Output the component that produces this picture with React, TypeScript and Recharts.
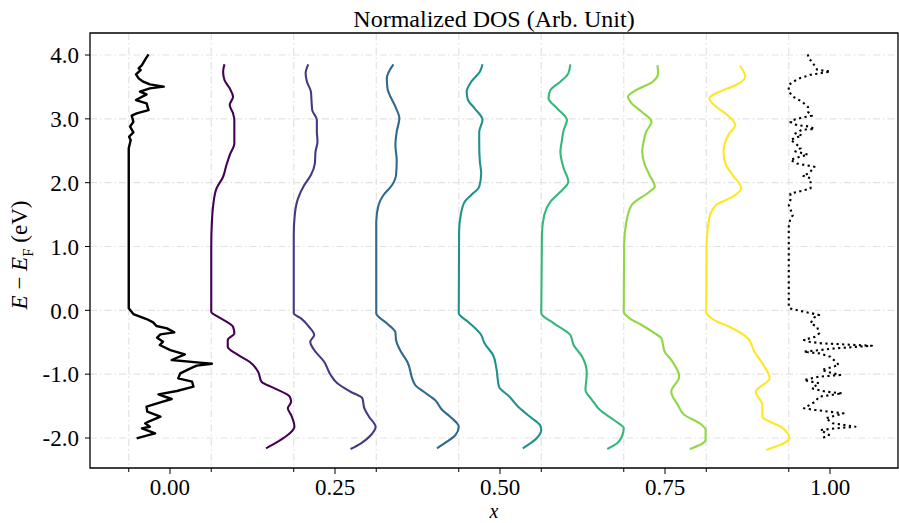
import { ScatterChart, Scatter, XAxis, YAxis, CartesianGrid, ReferenceArea } from "recharts"

// baseline of each curve along x (one curve every 0.125)
const offsets = [-0.0625, 0.0625, 0.1875, 0.3125, 0.4375, 0.5625, 0.6875, 0.8125, 0.9375]
const xMajorTicks = [0, 0.25, 0.5, 0.75, 1]
const yTicks = [-2, -1, 0, 1, 2, 3, 4]

// [E - E_F (eV), normalized DOS], top to bottom
const totalDos = [
  [4.01, 0.03], [3.948, 0.026], [3.843, 0.02], [3.791, 0.015], [3.765, 0.018], [3.697, 0.011],
  [3.634, 0.015], [3.582, 0.022], [3.54, 0.032], [3.504, 0.053], [3.478, 0.032], [3.426, 0.017],
  [3.384, 0.027], [3.295, 0.011], [3.243, 0.027], [3.138, 0.03], [3.086, 0.012], [3.05, 0.0045],
  [2.955, 0.007], [2.877, 0.002], [2.788, 0.007], [2.72, 0.0005], [2.668, 0.003], [2.538, 0],
  [0.031, 0], [-0.058, 0.007], [-0.089, 0.015], [-0.136, 0.027], [-0.188, 0.037], [-0.246, 0.042],
  [-0.282, 0.058], [-0.345, 0.069], [-0.376, 0.048], [-0.428, 0.043], [-0.491, 0.052], [-0.543, 0.047],
  [-0.622, 0.063], [-0.69, 0.085], [-0.778, 0.065], [-0.815, 0.103], [-0.836, 0.126], [-0.867, 0.103],
  [-0.898, 0.096], [-0.987, 0.078], [-1.066, 0.075], [-1.118, 0.096], [-1.196, 0.098], [-1.264, 0.073],
  [-1.316, 0.045], [-1.389, 0.065], [-1.442, 0.048], [-1.509, 0.027], [-1.588, 0.028], [-1.666, 0.048],
  [-1.734, 0.032], [-1.771, 0.025], [-1.823, 0.032], [-1.849, 0.02], [-1.927, 0.04], [-1.964, 0.027],
  [-2.005, 0.012],
]

const dos1 = [
  [3.854, 0.02], [3.738, 0.018], [3.608, 0.02], [3.478, 0.028], [3.347, 0.033], [3.217, 0.028],
  [3.087, 0.033], [2.982, 0.035], [2.798, 0.035], [2.617, 0.035], [2.433, 0.028], [2.277, 0.023],
  [2.093, 0.018], [1.911, 0.008], [1.65, 0.003], [1.388, 0.001], [1.0, 0], [-0.022, 0],
  [-0.1, 0.01], [-0.178, 0.023], [-0.257, 0.033], [-0.36, 0.035], [-0.465, 0.025], [-0.57, 0.025],
  [-0.7, 0.041], [-0.805, 0.058], [-0.962, 0.071], [-1.118, 0.076], [-1.222, 0.096], [-1.353, 0.119],
  [-1.432, 0.121], [-1.535, 0.116], [-1.64, 0.121], [-1.823, 0.126], [-1.927, 0.119], [-2.058, 0.101],
  [-2.162, 0.083],
]

const dos2 = [
  [3.854, 0.022], [3.713, 0.018], [3.582, 0.02], [3.425, 0.026], [3.268, 0.027], [3.138, 0.028],
  [2.982, 0.035], [2.798, 0.035], [2.642, 0.036], [2.485, 0.033], [2.303, 0.032], [2.12, 0.026],
  [1.963, 0.016], [1.755, 0.0065], [1.493, 0.0015], [1.18, 0], [-0.047, 0], [-0.125, 0.011],
  [-0.257, 0.023], [-0.387, 0.031], [-0.492, 0.025], [-0.622, 0.031], [-0.805, 0.046], [-1.013, 0.056],
  [-1.143, 0.066], [-1.275, 0.086], [-1.378, 0.104], [-1.535, 0.107], [-1.667, 0.114], [-1.823, 0.124],
  [-1.953, 0.117], [-2.083, 0.102], [-2.173, 0.086],
]

const dos3 = [
  [3.854, 0.026], [3.635, 0.016], [3.478, 0.017], [3.19, 0.029], [3.008, 0.035], [2.798, 0.031],
  [2.59, 0.029], [2.355, 0.031], [2.12, 0.03], [1.963, 0.024], [1.807, 0.011], [1.65, 0.0035],
  [1.388, 0], [-0.047, 0], [-0.203, 0.016], [-0.344, 0.029], [-0.465, 0.03], [-0.622, 0.036],
  [-0.805, 0.047], [-1.17, 0.059], [-1.275, 0.072], [-1.405, 0.089], [-1.562, 0.1], [-1.667, 0.112],
  [-1.823, 0.125], [-1.953, 0.12], [-2.058, 0.107], [-2.162, 0.092],
]

const dos4 = [
  [3.854, 0.036], [3.738, 0.032], [3.582, 0.019], [3.425, 0.012], [3.295, 0.014], [3.165, 0.024],
  [2.982, 0.036], [2.798, 0.031], [2.59, 0.031], [2.328, 0.032], [2.147, 0.034], [1.937, 0.031],
  [1.807, 0.019], [1.702, 0.009], [1.493, 0.003], [1.232, 0.0005], [-0.047, 0], [-0.178, 0.014],
  [-0.387, 0.034], [-0.517, 0.039], [-0.7, 0.052], [-0.908, 0.057], [-1.197, 0.061], [-1.353, 0.077],
  [-1.51, 0.09], [-1.667, 0.108], [-1.797, 0.123], [-1.875, 0.125], [-2.005, 0.118], [-2.162, 0.097],
]

const dos5 = [
  [3.854, 0.044], [3.713, 0.041], [3.582, 0.029], [3.452, 0.014], [3.322, 0.011], [3.165, 0.024],
  [2.982, 0.039], [2.825, 0.034], [2.642, 0.031], [2.485, 0.029], [2.225, 0.034], [2.015, 0.041],
  [1.858, 0.029], [1.702, 0.014], [1.493, 0.0045], [1.18, 0.001], [-0.047, 0], [-0.203, 0.019],
  [-0.387, 0.044], [-0.543, 0.049], [-0.727, 0.062], [-0.987, 0.069], [-1.248, 0.067], [-1.405, 0.077],
  [-1.562, 0.089], [-1.718, 0.11], [-1.848, 0.125], [-1.98, 0.122], [-2.083, 0.115], [-2.173, 0.1],
]

const dos6 = [
  [3.843, 0.051], [3.713, 0.052], [3.582, 0.044], [3.452, 0.019], [3.347, 0.0065], [3.243, 0.012],
  [3.112, 0.027], [2.955, 0.042], [2.798, 0.034], [2.642, 0.03], [2.485, 0.028], [2.277, 0.032],
  [2.12, 0.039], [1.937, 0.047], [1.858, 0.039], [1.65, 0.012], [1.388, 0.004], [1.023, 0.0005],
  [-0.022, 0], [-0.125, 0.009], [-0.23, 0.027], [-0.36, 0.047], [-0.438, 0.057], [-0.648, 0.062],
  [-0.778, 0.072], [-1.04, 0.084], [-1.275, 0.072], [-1.483, 0.082], [-1.64, 0.092], [-1.77, 0.115],
  [-1.875, 0.124], [-2.032, 0.124], [-2.173, 0.1],
]

const dos7 = [
  [3.832, 0.051], [3.66, 0.059], [3.53, 0.045], [3.425, 0.02], [3.322, 0.0045], [3.19, 0.015],
  [3.06, 0.032], [2.903, 0.044], [2.773, 0.035], [2.642, 0.029], [2.485, 0.026], [2.277, 0.03],
  [2.12, 0.04], [1.912, 0.053], [1.78, 0.04], [1.65, 0.015], [1.442, 0.0045], [1.023, 0.0005],
  [-0.022, 0], [-0.152, 0.012], [-0.257, 0.035], [-0.438, 0.063], [-0.648, 0.073], [-0.83, 0.085],
  [-1.065, 0.096], [-1.275, 0.075], [-1.483, 0.085], [-1.667, 0.085], [-1.823, 0.113], [-2.005, 0.126],
  [-2.188, 0.091],
]

const dosDotted = [
  [4.01, 0.029], [3.95, 0.03], [3.9, 0.035], [3.77, 0.043], [3.74, 0.063], [3.71, 0.045], [3.69, 0.033],
  [3.63, 0.015], [3.57, 0.005], [3.53, 0], [3.43, 0], [3.35, 0.006], [3.27, 0.02], [3.19, 0.029],
  [3.11, 0.029], [3.05, 0.035], [3.02, 0.02], [2.98, 0.006], [2.95, 0.0025], [2.9, 0.0126], [2.88, 0.031],
  [2.84, 0.039], [2.83, 0.02], [2.77, 0.01], [2.74, 0.02], [2.67, 0.0025], [2.62, 0.01], [2.54, 0.018],
  [2.49, 0.01], [2.44, 0.029], [2.41, 0.018], [2.36, 0.0025], [2.3, 0.0126], [2.25, 0.039], [2.15, 0.031],
  [2.11, 0.021], [2.07, 0.033], [1.91, 0.033], [1.86, 0.015], [1.83, 0.0025], [1.73, 0.0025], [1.65, 0],
  [1.49, 0.006], [1.42, 0.002], [1.31, 0], [0.06, 0], [0.031, 0.001], [-0.011, 0.018], [-0.047, 0.035],
  [-0.073, 0.046], [-0.115, 0.038], [-0.204, 0.033], [-0.256, 0.043], [-0.361, 0.046], [-0.413, 0.04],
  [-0.465, 0.023], [-0.491, 0.03], [-0.517, 0.05], [-0.555, 0.126], [-0.595, 0.071], [-0.648, 0.023],
  [-0.674, 0.046], [-0.726, 0.063], [-0.804, 0.071], [-0.857, 0.076], [-0.935, 0.05], [-0.987, 0.067],
  [-1.013, 0.078], [-1.039, 0.046], [-1.091, 0.023], [-1.144, 0.046], [-1.222, 0.035], [-1.274, 0.056],
  [-1.3, 0.081], [-1.353, 0.046], [-1.431, 0.04], [-1.535, 0.023], [-1.561, 0.04], [-1.614, 0.083],
  [-1.692, 0.056], [-1.77, 0.067], [-1.823, 0.101], [-1.849, 0.071], [-1.875, 0.048], [-1.953, 0.061],
  [-2.005, 0.05],
]

const curves = [totalDos, dos1, dos2, dos3, dos4, dos5, dos6, dos7, dosDotted]
const colors = ["#000000", "#440154", "#443983", "#31688e", "#21918c", "#35b779", "#90d743", "#fde725", "#000000"]

const X_MIN = -0.1212
const X_MAX = 1.103
const Y_MIN = -2.47
const Y_MAX = 4.345
const PLOT_BOTTOM = 468
const FONT = "'Liberation Serif', 'Times New Roman', serif"

const allXTicks = [...offsets, ...xMajorTicks].sort((a, b) => a - b)

function XTick(props: any) {
  const { x, payload } = props
  const major = xMajorTicks.includes(payload.value)
  return (
    <g>
      <line x1={x} x2={x} y1={PLOT_BOTTOM} y2={PLOT_BOTTOM + (major ? 6 : 4)} stroke="#000" strokeWidth={1} />
      {major && (
        <text x={x} y={PLOT_BOTTOM + 27} textAnchor="middle" fontFamily={FONT} fontSize={23} fill="#000">
          {payload.value.toFixed(2)}
        </text>
      )}
    </g>
  )
}

export default function App() {
  const series = curves.map((c, i) => c.map(([e, d]) => ({ x: offsets[i] + d, y: e })))

  return (
    <div style={{ position: "relative", width: 899, height: 523, background: "#fff", overflow: "hidden" }}>
      <style>{`body { margin: 0; }`}</style>
      <ScatterChart width={899} height={523} margin={{ top: 33, right: 1, bottom: 0, left: 0 }}>
        <CartesianGrid
          verticalValues={offsets}
          horizontalValues={yTicks}
          stroke="#e2e2e2"
          strokeWidth={1.2}
          strokeDasharray="7 3 1.5 3"
        />
        <XAxis
          type="number"
          dataKey="x"
          domain={[X_MIN, X_MAX]}
          allowDataOverflow
          ticks={allXTicks}
          interval={0}
          height={55}
          axisLine={false}
          tickLine={false}
          tick={<XTick />}
        />
        <YAxis
          type="number"
          dataKey="y"
          domain={[Y_MIN, Y_MAX]}
          allowDataOverflow
          ticks={yTicks}
          interval={0}
          width={90}
          axisLine={false}
          tickSize={5}
          tickMargin={6}
          tickLine={{ stroke: "#000" }}
          tick={{ fill: "#000", fontSize: 23, fontFamily: FONT }}
          tickFormatter={(v: number) => v.toFixed(1)}
        />
        {series.map((data, i) => (
          <Scatter
            key={i}
            data={data}
            isAnimationActive={false}
            legendType="none"
            shape={() => null}
            lineJointType={i === 0 || i === 8 ? "linear" : "monotoneY"}
            line={{
              stroke: colors[i],
              strokeWidth: i === 0 ? 2.4 : 2.1,
              strokeLinejoin: "round",
              strokeDasharray: i === 8 ? "2.2 3.4" : undefined,
            }}
          />
        ))}
        <ReferenceArea
          x1={X_MIN}
          x2={X_MAX}
          y1={Y_MIN}
          y2={Y_MAX}
          fill="none"
          stroke="#000"
          strokeWidth={1.3}
          ifOverflow="visible"
        />
      </ScatterChart>
      <div
        style={{
          position: "absolute",
          left: 90,
          width: 808,
          top: 8,
          lineHeight: "23px",
          textAlign: "center",
          fontFamily: FONT,
          fontSize: 24,
          color: "#000",
        }}
      >
        Normalized DOS (Arb. Unit)
      </div>
      <div
        style={{
          position: "absolute",
          left: 22,
          top: 255,
          transform: "translate(-50%, -50%) rotate(-90deg)",
          whiteSpace: "nowrap",
          fontFamily: FONT,
          fontSize: 23,
          color: "#000",
        }}
      >
        <i>E</i> − <i>E</i>
        <sub style={{ fontSize: 15 }}>F</sub> (eV)
      </div>
      <div
        style={{
          position: "absolute",
          left: 494,
          top: 501,
          lineHeight: "20px",
          transform: "translateX(-50%)",
          fontFamily: FONT,
          fontSize: 20,
          fontStyle: "italic",
          color: "#000",
        }}
      >
        x
      </div>
    </div>
  )
}
